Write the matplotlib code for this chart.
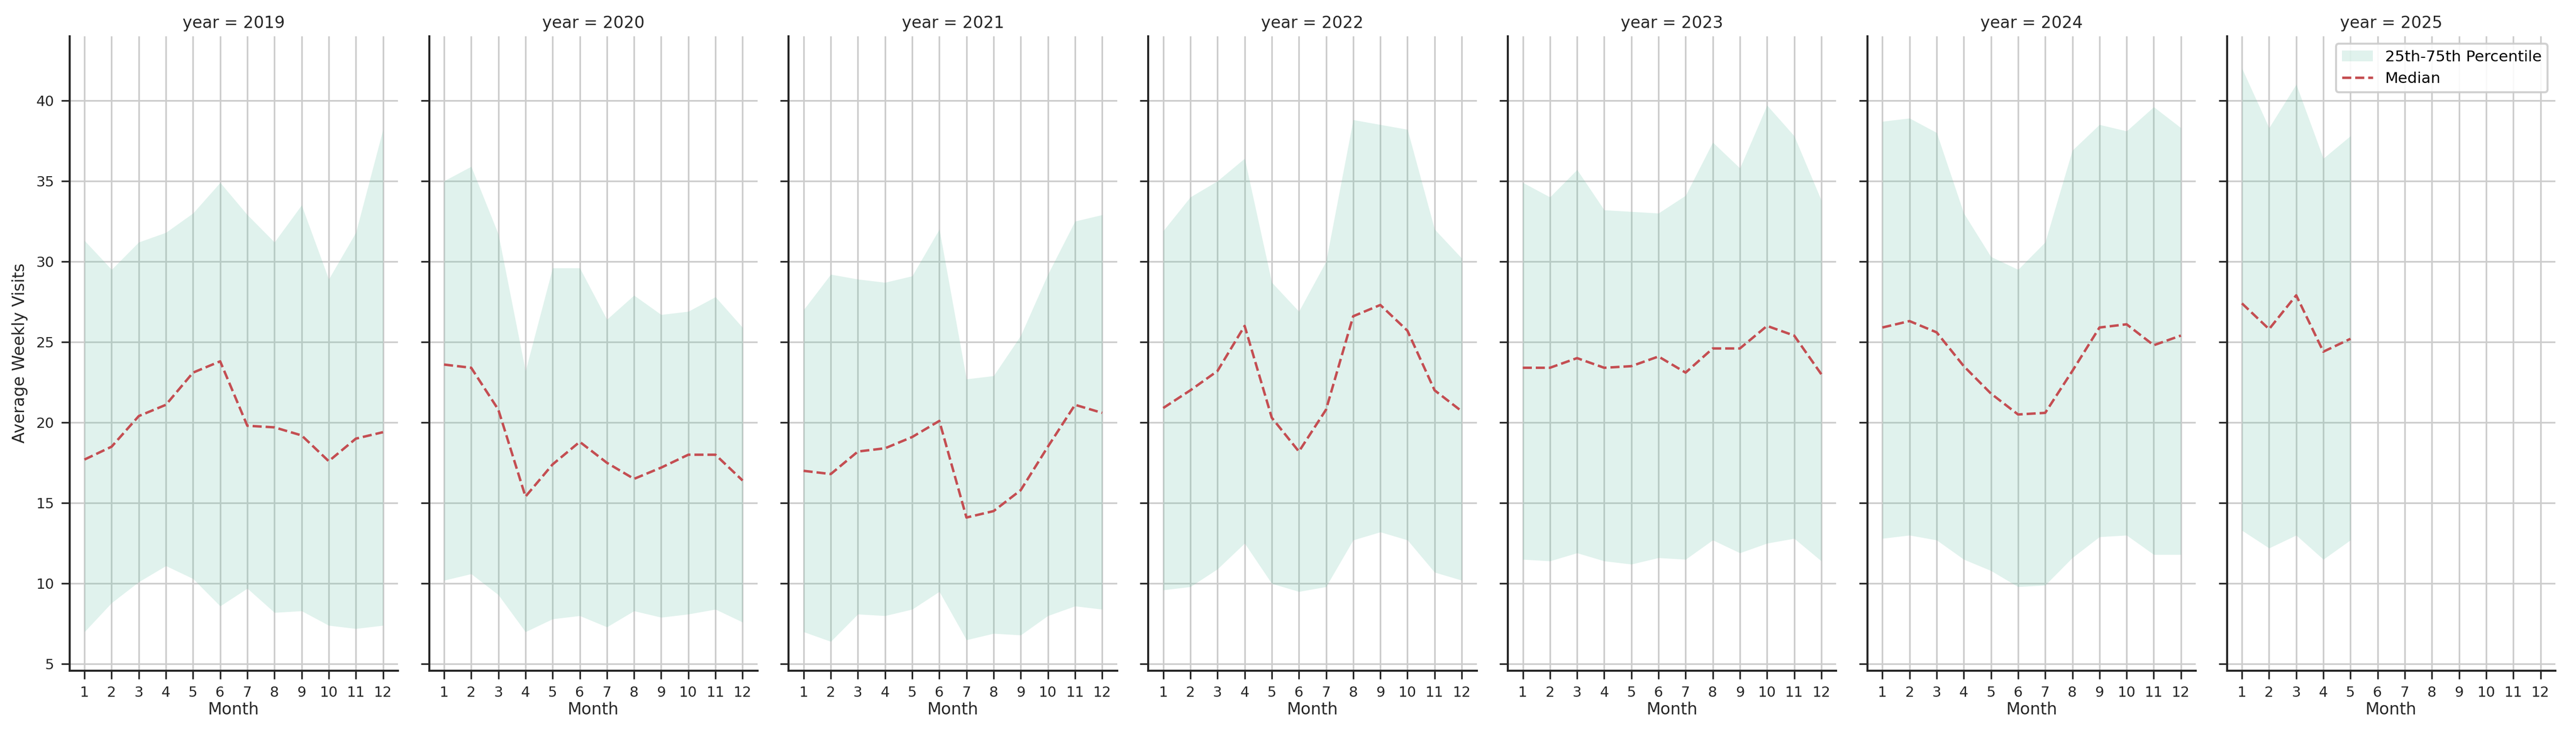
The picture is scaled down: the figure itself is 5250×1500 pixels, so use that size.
import matplotlib
matplotlib.use("Agg")
import matplotlib.pyplot as plt
import numpy as np

years = [2019, 2020, 2021, 2022, 2023, 2024, 2025]
months = list(range(1, 13))

median = {
    2019: [17.7, 18.5, 20.4, 21.1, 23.1, 23.8, 19.8, 19.7, 19.2, 17.6, 19.0, 19.4],
    2020: [23.6, 23.4, 20.8, 15.4, 17.4, 18.8, 17.5, 16.5, 17.2, 18.0, 18.0, 16.4],
    2021: [17.0, 16.8, 18.2, 18.4, 19.1, 20.1, 14.1, 14.5, 15.8, 18.5, 21.1, 20.6],
    2022: [20.9, 22.0, 23.2, 26.0, 20.3, 18.2, 20.8, 26.6, 27.3, 25.7, 22.0, 20.7],
    2023: [23.4, 23.4, 24.0, 23.4, 23.5, 24.1, 23.1, 24.6, 24.6, 26.0, 25.4, 23.0],
    2024: [25.9, 26.3, 25.6, 23.5, 21.8, 20.5, 20.6, 23.2, 25.9, 26.1, 24.8, 25.4],
    2025: [27.4, 25.8, 27.9, 24.4, 25.2],
}
q25 = {
    2019: [7.0, 8.8, 10.1, 11.1, 10.3, 8.6, 9.7, 8.2, 8.3, 7.4, 7.2, 7.4],
    2020: [10.2, 10.6, 9.3, 7.0, 7.8, 8.0, 7.3, 8.3, 7.9, 8.1, 8.4, 7.6],
    2021: [7.0, 6.4, 8.1, 8.0, 8.4, 9.5, 6.5, 6.9, 6.8, 8.0, 8.6, 8.4],
    2022: [9.6, 9.8, 10.9, 12.5, 10.0, 9.5, 9.8, 12.7, 13.2, 12.7, 10.7, 10.2],
    2023: [11.5, 11.4, 11.9, 11.4, 11.2, 11.6, 11.5, 12.7, 11.9, 12.5, 12.8, 11.4],
    2024: [12.8, 13.0, 12.7, 11.5, 10.8, 9.8, 9.9, 11.6, 12.9, 13.0, 11.8, 11.8],
    2025: [13.3, 12.2, 13.0, 11.5, 12.7],
}
q75 = {
    2019: [31.3, 29.5, 31.2, 31.8, 33.0, 34.9, 32.9, 31.2, 33.5, 28.9, 31.8, 38.2],
    2020: [35.0, 35.9, 31.7, 23.2, 29.6, 29.6, 26.4, 27.9, 26.7, 26.9, 27.8, 25.9],
    2021: [27.0, 29.2, 28.9, 28.7, 29.1, 32.0, 22.7, 22.9, 25.4, 29.2, 32.5, 32.9],
    2022: [31.9, 34.0, 35.0, 36.4, 28.7, 26.9, 30.0, 38.8, 38.5, 38.2, 32.0, 30.2],
    2023: [34.9, 34.0, 35.7, 33.2, 33.1, 33.0, 34.1, 37.4, 35.8, 39.7, 37.8, 33.8],
    2024: [38.7, 38.9, 38.0, 33.0, 30.3, 29.5, 31.2, 36.9, 38.5, 38.1, 39.6, 38.3],
    2025: [42.0, 38.3, 41.0, 36.4, 37.8],
}

fig, axes = plt.subplots(1, 7, figsize=(17.5, 5), dpi=300, sharey=True)
fig.subplots_adjust(left=0.027, right=0.992, top=0.951, bottom=0.089, wspace=0.095)

for ax, yr in zip(axes, years):
    m = median[yr]
    x = months[:len(m)]
    ax.fill_between(x, q25[yr], q75[yr], color="#66c2a5", alpha=0.2, linewidth=0,
                    label="25th-75th Percentile")
    ax.plot(x, m, color="#c44e52", linestyle="--", linewidth=1.2, label="Median")
    ax.set_xticks(months)
    ax.set_xlim(0.45, 12.55)
    ax.set_ylim(4.6, 44.0)
    ax.set_yticks([5, 10, 15, 20, 25, 30, 35, 40])
    ax.grid(True, color="#cccccc", linewidth=0.8)
    ax.set_axisbelow(True)
    for s in ("top", "right"):
        ax.spines[s].set_visible(False)
    for s in ("left", "bottom"):
        ax.spines[s].set_color("#262626")
        ax.spines[s].set_linewidth(1.0)
    ax.tick_params(axis="both", labelsize=7, color="#262626", labelcolor="#262626", length=4)
    ax.set_xlabel("Month", fontsize=8, color="#262626", labelpad=1)
    ax.set_title(f"year = {yr}", fontsize=8, color="#262626", pad=4)

axes[0].set_ylabel("Average Weekly Visits", fontsize=8, color="#262626")
axes[-1].legend(loc="upper right", fontsize=7.5, frameon=True, framealpha=0.9)

fig.savefig("out.png", dpi=300)
